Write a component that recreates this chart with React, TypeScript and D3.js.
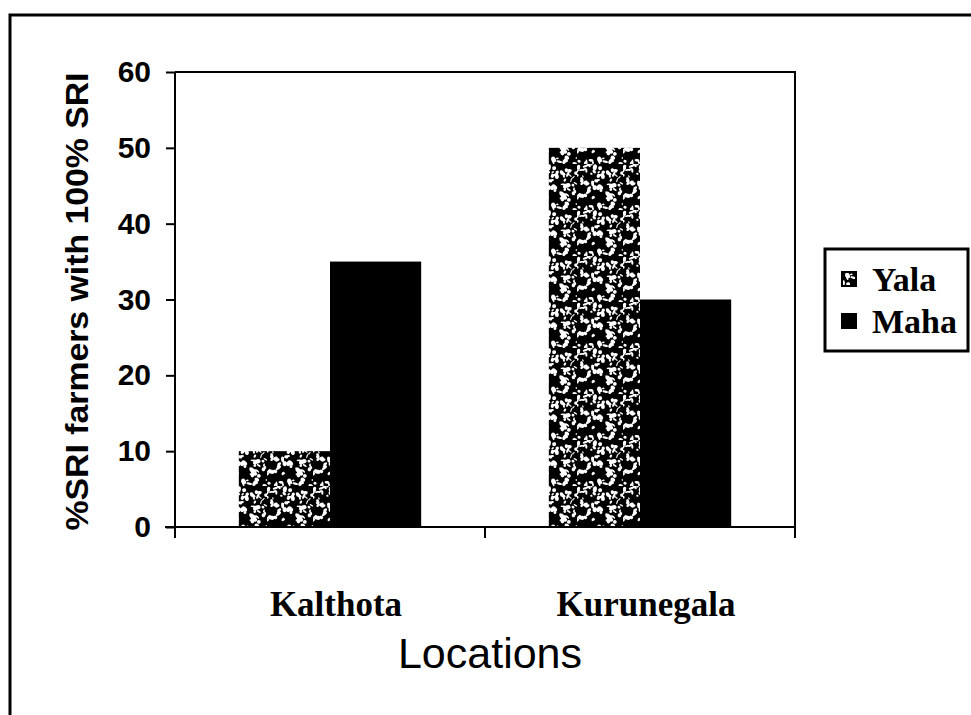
import React, { useEffect, useRef } from 'react';
import * as d3 from 'd3';

const locations = ['Kalthota', 'Kurunegala'];
const seasons = ['Yala', 'Maha'];
const yalaValues = [10, 50];
const mahaValues = [35, 30];
const yTicks = [0, 10, 20, 30, 40, 50, 60];

const W = 971;
const H = 715;

const App = () => {
  const ref = useRef<SVGSVGElement>(null);

  useEffect(() => {
    drawChart();
  }, []);

  function drawChart() {
    const svg = d3.select(ref.current);
    svg.selectAll('*').remove();

    const margin = { top: 72, right: 176, bottom: 188, left: 175 };
    const innerW = W - margin.left - margin.right;
    const innerH = H - margin.top - margin.bottom;

    // speckle pattern for Yala
    const defs = svg.append('defs');
    const pat = defs
      .append('pattern')
      .attr('id', 'speckle')
      .attr('patternUnits', 'userSpaceOnUse')
      .attr('width', 46)
      .attr('height', 46);
    pat.append('rect').attr('width', 46).attr('height', 46).attr('fill', '#000');
    const rnd = d3.randomLcg(0.42);
    for (let i = 0; i < 95; i++) {
      const cx = rnd() * 46;
      const cy = rnd() * 46;
      pat
        .append('ellipse')
        .attr('cx', cx)
        .attr('cy', cy)
        .attr('rx', 0.8 + rnd() * 2.4)
        .attr('ry', 0.6 + rnd() * 1.6)
        .attr('transform', `rotate(${rnd() * 180},${cx},${cy})`)
        .attr('fill', '#fff');
    }

    // outer frame
    svg
      .append('path')
      .attr('d', `M10,${H + 5} L10,15 L${W + 5},15`)
      .attr('fill', 'none')
      .attr('stroke', '#000')
      .attr('stroke-width', 3);

    const g = svg.append('g').attr('transform', `translate(${margin.left},${margin.top})`);

    const x0 = d3.scaleBand().domain(locations).range([0, innerW]).padding(0);
    const x1 = d3
      .scaleBand()
      .domain(seasons)
      .range([0, x0.bandwidth()])
      .paddingOuter(0.7)
      .paddingInner(0);
    const y = d3.scaleLinear().domain([0, 60]).range([innerH, 0]);

    const rows = locations.map((loc, i) => ({
      loc,
      vals: [
        { key: 'Yala', v: yalaValues[i] },
        { key: 'Maha', v: mahaValues[i] },
      ],
    }));

    // plot frame top + right
    g.append('path')
      .attr('d', `M0,0 H${innerW} V${innerH}`)
      .attr('fill', 'none')
      .attr('stroke', '#000')
      .attr('stroke-width', 2);

    const grp = g
      .selectAll('.grp')
      .data(rows)
      .enter()
      .append('g')
      .attr('transform', (d) => `translate(${x0(d.loc)},0)`);

    grp
      .selectAll('rect')
      .data((d) => d.vals)
      .enter()
      .append('rect')
      .attr('x', (d) => x1(d.key)!)
      .attr('y', (d) => y(d.v))
      .attr('width', x1.bandwidth())
      .attr('height', (d) => innerH - y(d.v))
      .attr('fill', (d) => (d.key === 'Yala' ? 'url(#speckle)' : '#000'));

    // y axis
    const yAxis = g
      .append('g')
      .call(d3.axisLeft(y).tickValues(yTicks).tickSize(9).tickPadding(15))
      .call((a) => a.select('.domain').attr('stroke-width', 2).attr('d', `M0,${innerH + 10} V0`));
    yAxis.selectAll('.tick line').attr('stroke-width', 2);
    yAxis
      .selectAll('text')
      .attr('font-family', 'Liberation Sans, Arial, sans-serif')
      .attr('font-weight', 'bold')
      .attr('font-size', 30)
      .attr('fill', '#000');

    // x axis
    const xAxis = g
      .append('g')
      .attr('transform', `translate(0,${innerH})`)
      .call(d3.axisBottom(x0).tickSize(0).tickFormat(() => ''))
      .call((a) => a.select('.domain').attr('stroke-width', 2).attr('d', `M-10,0 H${innerW}`));
    [0, ...locations.map((l) => x0(l)! + x0.bandwidth())].forEach((t) => {
      xAxis
        .append('line')
        .attr('x1', t)
        .attr('x2', t)
        .attr('y1', 0)
        .attr('y2', 11)
        .attr('stroke', '#000')
        .attr('stroke-width', 2);
    });

    g.selectAll('.xlab')
      .data(locations)
      .enter()
      .append('text')
      .attr('x', (d) => x0(d)! + x0.bandwidth() / 2 + 6)
      .attr('y', innerH + 89)
      .attr('text-anchor', 'middle')
      .attr('font-family', 'Liberation Serif, Times New Roman, serif')
      .attr('font-weight', 'bold')
      .attr('font-size', 35)
      .text((d) => d);

    // axis titles
    svg
      .append('text')
      .attr('transform', `translate(88,${margin.top + innerH / 2 + 2}) rotate(-90)`)
      .attr('text-anchor', 'middle')
      .attr('font-family', 'Liberation Sans, Arial, sans-serif')
      .attr('font-weight', 'bold')
      .attr('font-size', 31)
      .attr('textLength', 458)
      .attr('lengthAdjust', 'spacingAndGlyphs')
      .text('%SRI farmers with 100% SRI');

    svg
      .append('text')
      .attr('x', 490)
      .attr('y', 668)
      .attr('text-anchor', 'middle')
      .attr('font-family', 'Liberation Sans, Arial, sans-serif')
      .attr('font-size', 43)
      .text('Locations');

    // legend
    const lg = svg.append('g').attr('transform', 'translate(825,249)');
    lg.append('rect')
      .attr('width', 143)
      .attr('height', 102)
      .attr('fill', '#fff')
      .attr('stroke', '#000')
      .attr('stroke-width', 3);
    const item = lg
      .selectAll('.item')
      .data(seasons)
      .enter()
      .append('g')
      .attr('transform', (_, i) => `translate(0,${31 + i * 42})`);
    item
      .append('rect')
      .attr('x', 17)
      .attr('y', -8)
      .attr('width', 14)
      .attr('height', 14)
      .attr('fill', (d) => (d === 'Yala' ? 'url(#speckle)' : '#000'))
      .attr('stroke', '#000')
      .attr('stroke-width', 2);
    item
      .append('text')
      .attr('x', 47)
      .attr('y', 11)
      .attr('font-family', 'Liberation Serif, Times New Roman, serif')
      .attr('font-weight', 'bold')
      .attr('font-size', 34)
      .text((d) => d);
  }

  return (
    <svg
      ref={ref}
      width={W}
      height={H}
      style={{ position: 'absolute', left: 0, top: 0, background: '#fff' }}
    />
  );
};

export default App;
